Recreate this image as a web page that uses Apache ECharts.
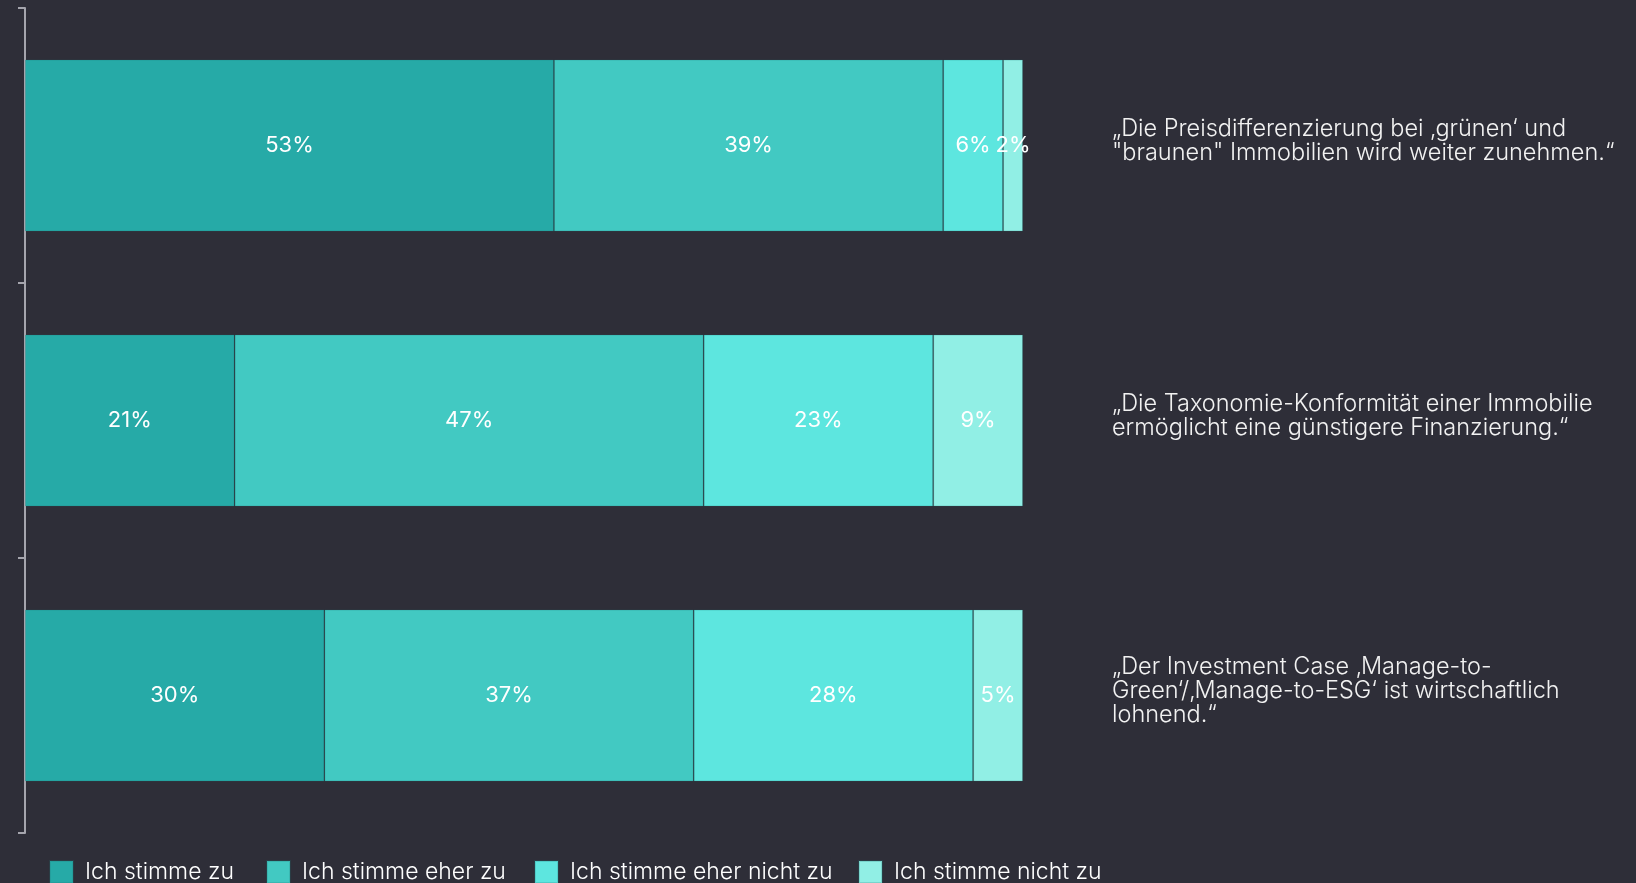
<!DOCTYPE html>
<html><head><meta charset="utf-8">
<script src="https://cdn.jsdelivr.net/npm/echarts@6/dist/echarts.min.js"></script>
<style>html,body{margin:0;padding:0;background:#2e2e38;}#c{width:1636px;height:883px;}</style>
</head><body><div id="c"></div>
<script>
const categories = [
  '„Die Preisdifferenzierung bei ‚grünen‘ und\n"braunen" Immobilien wird weiter zunehmen.“',
  '„Die Taxonomie-Konformität einer Immobilie\nermöglicht eine günstigere Finanzierung.“',
  '„Der Investment Case ‚Manage-to-\nGreen‘/‚Manage-to-ESG‘ ist wirtschaftlich\nlohnend.“'
];
const seriesNames = ['Ich stimme zu', 'Ich stimme eher zu', 'Ich stimme eher nicht zu', 'Ich stimme nicht zu'];
const stimmeZu = [53, 21, 30];
const eherZu = [39, 47, 37];
const eherNichtZu = [6, 23, 28];
const nichtZu = [2, 9, 5];
const colors = ['#26aaa7', '#42c9c2', '#5de6df', '#91efe5'];
const legendLeft = [49, 266, 534, 858];

const values = [stimmeZu, eherZu, eherNichtZu, nichtZu];
const chart = echarts.init(document.getElementById('c'));
const font = 'Inter';
chart.setOption({
  backgroundColor: '#2e2e38',
  animation: false,
  grid: [
    { left: 25, top: 8, width: 998, height: 825 },
    { left: 25, top: 3, width: 998, height: 825 }
  ],
  legend: seriesNames.map((n, i) => ({
    left: legendLeft[i], top: 860, padding: 0, itemWidth: 23, itemHeight: 22,
    icon: 'rect',
    textStyle: { color: '#ffffff', fontSize: 23, fontFamily: font, fontWeight: 300, padding: [0, 0, 0, 7] },
    data: [n]
  })),
  xAxis: [
    { type: 'value', min: 0, max: 100, show: false, gridIndex: 0 },
    { type: 'value', min: 0, max: 100, show: false, gridIndex: 1 }
  ],
  yAxis: [
    {
      type: 'category', data: categories, inverse: true, position: 'left', gridIndex: 0,
      axisLine: { show: true, lineStyle: { color: '#a5a5ad', width: 2 } },
      axisTick: { show: true, length: 7, lineStyle: { color: '#a5a5ad', width: 2 } },
      axisLabel: { show: false }
    },
    {
      type: 'category', data: categories, inverse: true, position: 'right', gridIndex: 1,
      axisLine: { show: false }, axisTick: { show: false },
      axisLabel: { show: true, align: 'left', margin: 89, color: '#f2f2f2', fontSize: 23.5, fontWeight: 300, lineHeight: 24, fontFamily: font }
    }
  ],
  series: seriesNames.map((n, i) => ({
    name: n, type: 'bar', stack: 'total', xAxisIndex: 0, yAxisIndex: 0, barWidth: '62.5%',
    data: values[i],
    itemStyle: { color: colors[i], borderColor: 'rgba(30,120,118,0.22)', borderWidth: 1 },
    label: { show: true, position: 'inside', color: '#ffffff', fontSize: 22, fontWeight: 'normal', fontFamily: font, formatter: '{c}%' }
  }))
});
</script></body></html>
